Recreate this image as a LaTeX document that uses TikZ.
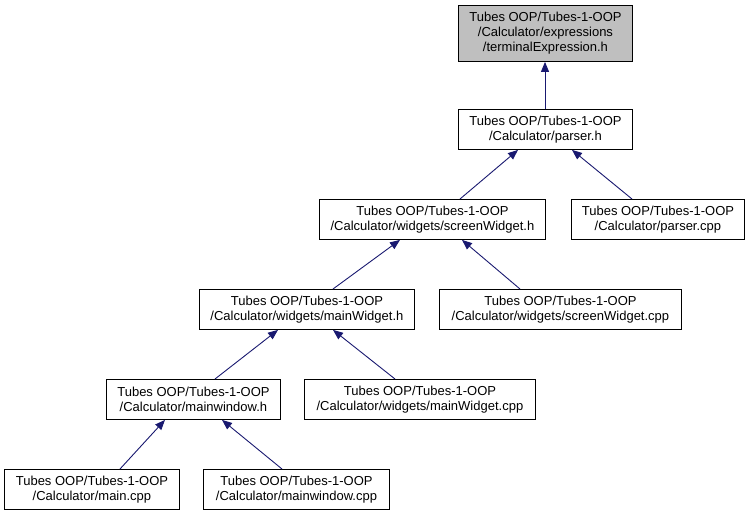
\documentclass[tikz,border=0pt]{standalone}
\usepackage{fontspec}
\setmainfont{Liberation Sans}
\usetikzlibrary{arrows.meta}
\definecolor{edgecol}{HTML}{191970}
\definecolor{topfill}{HTML}{BFBFBF}
\begin{document}
\begin{tikzpicture}[x=1pt,y=-1pt,
  box/.style={draw=black,line width=0.9pt,fill=white,align=center,inner sep=0pt,anchor=north west,
    font=\fontsize{13}{15}\selectfont,minimum height=40pt},
  dep/.style={draw=edgecol,line width=0.9pt,-{Triangle[length=10pt,width=8pt]}}]
\useasboundingbox (0,0) rectangle (749,513);
\node[box,fill=topfill,minimum width=174pt,minimum height=56pt] (t) at (458,5) {Tubes OOP/Tubes-1-OOP\\/Calculator/expressions\\/terminalExpression.h};
\node[box,minimum width=174pt] (p) at (458,109) {Tubes OOP/Tubes-1-OOP\\/Calculator/parser.h};
\node[box,minimum width=226pt] (sw) at (319,199) {Tubes OOP/Tubes-1-OOP\\/Calculator/widgets/screenWidget.h};
\node[box,minimum width=173pt] (pc) at (571,199) {Tubes OOP/Tubes-1-OOP\\/Calculator/parser.cpp};
\node[box,minimum width=215pt] (mw) at (199,289) {Tubes OOP/Tubes-1-OOP\\/Calculator/widgets/mainWidget.h};
\node[box,minimum width=242pt] (swc) at (439,289) {Tubes OOP/Tubes-1-OOP\\/Calculator/widgets/screenWidget.cpp};
\node[box,minimum width=174pt] (mwin) at (106,379) {Tubes OOP/Tubes-1-OOP\\/Calculator/mainwindow.h};
\node[box,minimum width=231pt] (mwc) at (304,379) {Tubes OOP/Tubes-1-OOP\\/Calculator/widgets/mainWidget.cpp};
\node[box,minimum width=175pt] (mc) at (4,469) {Tubes OOP/Tubes-1-OOP\\/Calculator/main.cpp};
\node[box,minimum width=186pt] (mwinc) at (203,469) {Tubes OOP/Tubes-1-OOP\\/Calculator/mainwindow.cpp};
\draw[dep] ([xshift=87pt]p.north west) -- ([xshift=87pt]t.south west);
\draw[dep] ([xshift=141pt]sw.north west) -- ([xshift=60pt]p.south west);
\draw[dep] ([xshift=61pt]pc.north west) -- ([xshift=114pt]p.south west);
\draw[dep] ([xshift=134pt]mw.north west) -- ([xshift=81pt]sw.south west);
\draw[dep] ([xshift=81pt]swc.north west) -- ([xshift=143pt]sw.south west);
\draw[dep] ([xshift=109pt]mwin.north west) -- ([xshift=79pt]mw.south west);
\draw[dep] ([xshift=91pt]mwc.north west) -- ([xshift=134pt]mw.south west);
\draw[dep] ([xshift=116pt]mc.north west) -- ([xshift=59pt]mwin.south west);
\draw[dep] ([xshift=79pt]mwinc.north west) -- ([xshift=116pt]mwin.south west);
\end{tikzpicture}
\end{document}
